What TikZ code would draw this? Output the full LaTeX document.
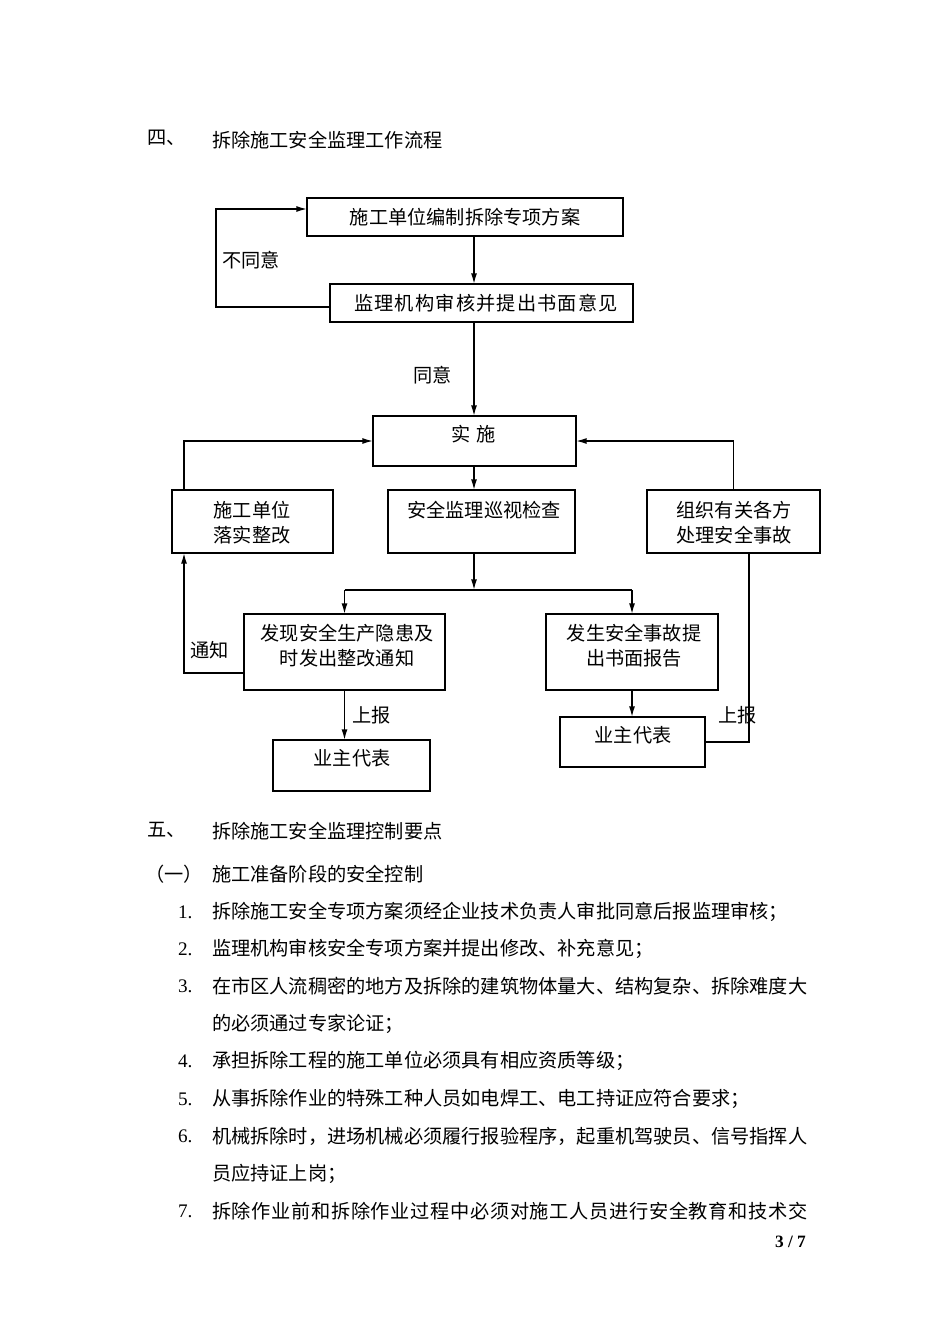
\documentclass[tikz,border=0pt]{standalone}
\usepackage{fontspec}
\setmainfont{Liberation Serif}
\newfontfamily\cjk{Noto Sans CJK SC}
\newfontfamily\cjkjust[LetterSpace=3.5]{Noto Sans CJK SC}
\newfontfamily\cjkwide[LetterSpace=6]{Noto Sans CJK SC}
\usetikzlibrary{arrows.meta,shadows}
\begin{document}
\begin{tikzpicture}[x=0.75pt,y=-0.75pt,
  every node/.style={inner sep=0pt,outer sep=0pt},
  tx/.style={font=\cjk\fontsize{14.4pt}{18.75pt}\selectfont, align=center},
  lt/.style={tx, anchor=west},
  num/.style={anchor=west, font=\fontsize{14.4pt}{18pt}\selectfont},
  bx/.style 2 args={draw, line width=0.9pt, fill=white, minimum width=#1*0.75pt, minimum height=#2*0.75pt,
     drop shadow={shadow xshift=1.1pt,shadow yshift=-1.1pt,opacity=1,fill=black}},
  ln/.style={line width=1.1pt},
  ar/.style={line width=1.1pt,-{Latex[length=8pt,width=4.5pt]}},
]
\fill[white] (0,0) rectangle (950,1344);
\useasboundingbox (0,0) rectangle (950,1344);

% heading
\node[lt] (h4) at (147,138) {四、};
\node[lt] (h4t) at (212,140) {拆除施工安全监理工作流程};

% boxes
\node[bx={316}{38}] (b1) at (465,217) {};
\node[bx={303}{38}] (b2) at (481.5,303) {};
\node[bx={203}{50}] (ss) at (474.5,441) {};
\node[bx={161}{63}] (lb) at (252.5,521.5) {};
\node[bx={187}{63}] (mb) at (481.5,521.5) {};
\node[bx={173}{63}] (rb) at (733.5,521.5) {};
\node[bx={201}{76}] (fb) at (344.5,652) {};
\node[bx={172}{76}] (ab) at (632,652) {};
\node[bx={157}{51}] (o1) at (351.5,765.5) {};
\node[bx={145}{50}] (o2) at (632.5,742) {};

% box texts
\node[tx] (t1) at (465,217) {施工单位编制拆除专项方案};
\node[tx,font=\cjkwide\fontsize{14.4pt}{18.75pt}\selectfont] (t2) at (486,303) {监理机构审核并提出书面意见};
\node[tx] (tss) at (474,434) {实\hspace{4.5pt}施};
\node[tx] (tlb) at (252,522.5) {施工单位\\落实整改};
\node[tx] (tmb) at (484,510) {安全监理巡视检查};
\node[tx] (trb) at (734,522.5) {组织有关各方\\处理安全事故};
\node[tx] (tfb) at (347,645.5) {发现安全生产隐患及\\时发出整改通知};
\node[tx] (tab) at (634,645.5) {发生安全事故提\\出书面报告};
\node[tx] (to1) at (352,758) {业主代表};
\node[tx] (to2) at (633,735) {业主代表};

% connector labels
\node[lt] (l1) at (222,260) {不同意};
\node[lt] (l2) at (413,375) {同意};
\node[lt] (l3) at (190,650) {通知};
\node[lt] (l4) at (352,715) {上报};
\node[lt] (l5) at (718,715) {上报};

% helper coordinates
\coordinate (mx) at (474,0);
\coordinate (lx) at (184,0);
\coordinate (rx) at (749,0);
\coordinate (sp) at (474,590);

% connectors
\draw[ar] ([yshift=-3pt]b2.west) -- (216,307) -- (216,209) -- ([yshift=6pt]b1.west);
\draw[ar] (b1.south -| mx) -- (b2.north -| mx);
\draw[ar] (b2.south -| mx) -- (ss.north -| mx);
\draw[ar] (ss.south -| mx) -- (mb.north -| mx);
\draw[ar] (mb.south -| mx) -- (sp);
\draw[ln] (fb.north |- sp) -- (ab.north |- sp);
\draw[ar] (fb.north |- sp) -- (fb.north);
\draw[ar] (ab.north |- sp) -- (ab.north);
\draw[ar] (lb.north -| lx) |- (ss.west);
\draw[ar] (rb.north) |- (ss.east);
\draw[ar] ([yshift=-15.75pt]fb.west) -| (lb.south -| lx);
\draw[ar] (fb.south) -- (fb.south |- o1.north);
\draw[ar] (ab.south) -- (ab.south |- o2.north);
\draw[ln] (o2.east) -| (rb.south -| rx);

% section five
\node[lt] (h5) at (147,830) {五、};
\node[lt] (h5t) at (212,831) {拆除施工安全监理控制要点};
\node[lt] (s1) at (145,874) {（一）};
\node[lt] (s1t) at (212,874) {施工准备阶段的安全控制};

\node[num] (n1) at (178,912) {1.};
\node[lt] (p1) at (212,912) {拆除施工安全专项方案须经企业技术负责人审批同意后报监理审核；};
\node[num] (n2) at (178,949) {2.};
\node[lt] (p2) at (212,949) {监理机构审核安全专项方案并提出修改、补充意见；};
\node[num] (n3) at (178,986) {3.};
\node[lt] (p3) at (212,986) {在市区人流稠密的地方及拆除的建筑物体量大、结构复杂、拆除难度大};
\node[lt] (p3b) at (212,1024) {的必须通过专家论证；};
\node[num] (n4) at (178,1061) {4.};
\node[lt] (p4) at (212,1061) {承担拆除工程的施工单位必须具有相应资质等级；};
\node[num] (n5) at (178,1099) {5.};
\node[lt] (p5) at (212,1099) {从事拆除作业的特殊工种人员如电焊工、电工持证应符合要求；};
\node[num] (n6) at (178,1136) {6.};
\node[lt] (p6) at (212,1136) {机械拆除时，进场机械必须履行报验程序，起重机驾驶员、信号指挥人};
\node[lt] (p6b) at (212,1174) {员应持证上岗；};
\node[num] (n7) at (178,1211) {7.};
\node[lt,font=\cjkjust\fontsize{14.4pt}{18.75pt}\selectfont] (p7) at (212,1211) {拆除作业前和拆除作业过程中必须对施工人员进行安全教育和技术交};

\node[anchor=west,font=\bfseries\fontsize{13pt}{15pt}\selectfont] (pg) at (775,1242) {3 / 7};
\end{tikzpicture}
\end{document}
